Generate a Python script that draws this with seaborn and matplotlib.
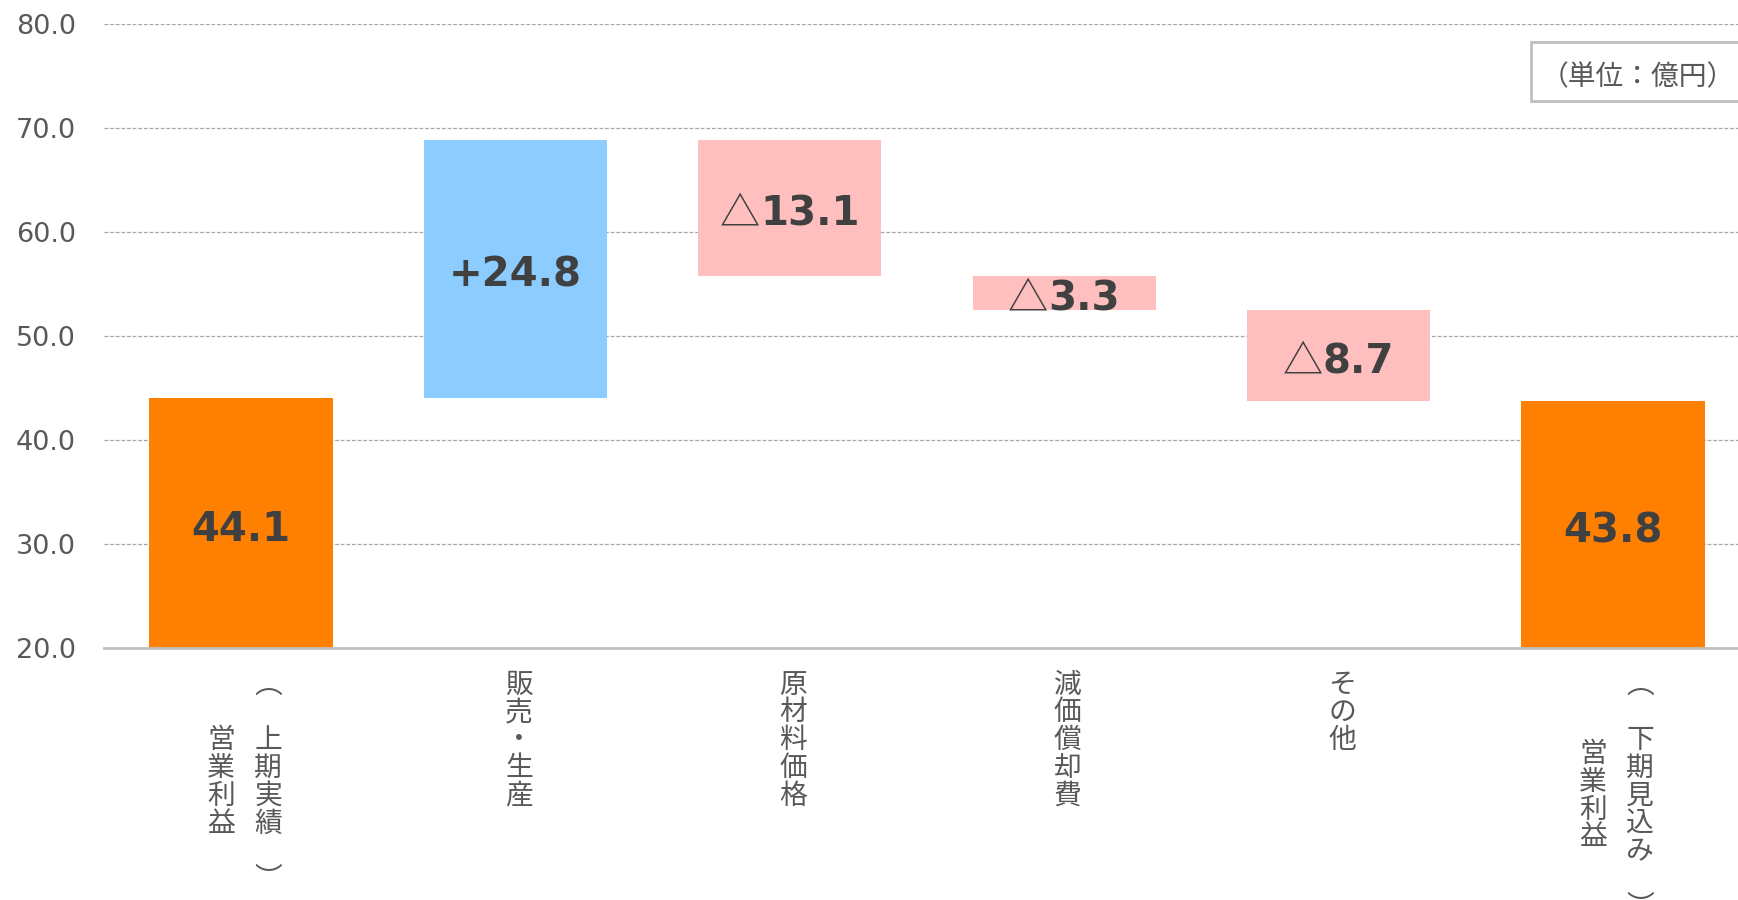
import numpy as np
import pandas as pd
import matplotlib
matplotlib.use("Agg")
import matplotlib.pyplot as plt
import seaborn as sns
from matplotlib.patches import Rectangle

# ---------------- data ----------------
categories = ["営業利益（上期実績）", "販売・生産", "原材料価格", "減価償却費", "その他", "営業利益（下期見込み）"]
changes = [44.1, 24.8, -13.1, -3.3, -8.7, 43.8]
kinds = ["total", "up", "down", "down", "down", "total"]
y_ticks = [20, 30, 40, 50, 60, 70, 80]
unit_label = "（単位：億円）"

kind_colors = {"total": "#FF8000", "up": "#8CCCFF", "down": "#FFBFBF"}

# waterfall geometry derived from the changes
bottoms, heights = [], []
running = 0.0
for v, k in zip(changes, kinds):
    if k == "total":
        bottoms.append(0.0)
        heights.append(v)
        running = v
    else:
        start = running
        running = running + v
        bottoms.append(min(start, running))
        heights.append(abs(v))

df = pd.DataFrame({"cat": categories, "height": heights, "bottom": bottoms, "kind": kinds})

# ---------------- style ----------------
sns.set_style("white")
plt.rcParams["font.family"] = ["DejaVu Sans", "Noto Sans CJK JP"]
CJK = ["Noto Sans CJK JP", "DejaVu Sans"]
GRAY_TXT = "#595959"
DARK_TXT = "#404040"

W, H = 1738, 900
fig = plt.figure(figsize=(W / 100, H / 100), dpi=100)
ax_left, ax_right, ax_top, ax_bot = 103.8, 1750.2, 24.4, 648.4
ax = fig.add_axes([ax_left / W, 1 - ax_bot / H, (ax_right - ax_left) / W, (ax_bot - ax_top) / H])

sns.barplot(
    data=df, x="cat", y="height", bottom=df["bottom"].values,
    facecolor=[kind_colors[k] for k in kinds], color="#FF8000",
    width=0.667, saturation=1, errorbar=None, linewidth=0, edgecolor="none", ax=ax,
)

ymin, ymax = y_ticks[0], y_ticks[-1]
ax.set_ylim(ymin, ymax)
ax.set_xlim(-0.5, len(categories) - 0.5)
ax.set_yticks(y_ticks)
ax.set_yticklabels([f"{t:.1f}" for t in y_ticks])
ax.tick_params(axis="y", length=0, pad=20, labelsize=19.5, labelcolor=GRAY_TXT)
ax.set_xticks(range(len(categories)))
ax.set_xticklabels([])
ax.tick_params(axis="x", length=0)
ax.set_xlabel("")
ax.set_ylabel("")
ax.yaxis.grid(True, color="#A6A6A6", linestyle=(0, (3, 1.5)), linewidth=0.9)
ax.xaxis.grid(False)
ax.set_axisbelow(True)
for s in ["left", "right", "top"]:
    ax.spines[s].set_visible(False)
ax.spines["bottom"].set_color("#BFBFBF")
ax.spines["bottom"].set_linewidth(2)

# ---------------- value labels ----------------
LBL_SIZE = 29
cap_px = 0.729 * LBL_SIZE * 100 / 72
pairs = []
for i, (v, k, b, h) in enumerate(zip(changes, kinds, bottoms, heights)):
    lo = max(b, ymin)
    mid = (lo + b + h) / 2
    if k == "total":
        num = f"{v:.1f}"
        prefix = None
    elif k == "up":
        num = f"+{v:.1f}"
        prefix = None
    else:
        num = f"{abs(v):.1f}"
        prefix = "△"
    tnum = ax.annotate(num, xy=(i, mid), xytext=(0, -cap_px / 2 - 3), textcoords="offset pixels",
                       ha="left", va="baseline", fontsize=LBL_SIZE, fontweight="bold",
                       color=DARK_TXT, family="DejaVu Sans", zorder=6)
    tpre = None
    if prefix:
        tpre = ax.annotate(prefix, xy=(i, mid), xytext=(0, -cap_px / 2 - 3), textcoords="offset pixels",
                           ha="left", va="baseline", fontsize=LBL_SIZE, fontweight="normal",
                           color=DARK_TXT, family=CJK, zorder=6)
    pairs.append((tpre, tnum))

fig.canvas.draw()
rend = fig.canvas.get_renderer()
for tpre, tnum in pairs:
    w2 = tnum.get_window_extent(rend).width
    w1 = tpre.get_window_extent(rend).width if tpre is not None else 0.0
    total = w1 + w2
    yoff = tnum.xyann[1]
    if tpre is not None:
        tpre.xyann = (-total / 2, yoff)
    tnum.xyann = (-total / 2 + w1, yoff)

# ---------------- vertical category labels ----------------
CAT_SIZE = 20
pitch = 27.8
first_center = 33.6
em_px = CAT_SIZE * 100 / 72


def label_columns(label):
    if "（" in label:
        main, rest = label.split("（", 1)
        inner = rest.rstrip("）")
        return [(-20, list(main)), (27, ["︵", ""] + list(inner) + ["", "︶"])]
    return [(3.5, list(label))]


for i, lab in enumerate(categories):
    cols = label_columns(lab)
    nmax = max(len(c) for _, c in cols)
    for dx, chars in cols:
        start = (nmax - len(chars)) / 2
        for j, ch in enumerate(chars):
            if not ch:
                continue
            cy = first_center + (start + j) * pitch
            ax.annotate(ch, xy=(i, 0), xycoords=("data", "axes fraction"),
                        xytext=(dx, -(cy + 0.38 * em_px)), textcoords="offset pixels",
                        ha="center", va="baseline", fontsize=CAT_SIZE, color=GRAY_TXT,
                        family=CJK, annotation_clip=False)

# ---------------- unit box ----------------
fig.add_artist(Rectangle((1531 / W, 1 - 101 / H), 300 / W, 59 / H, transform=fig.transFigure,
                         facecolor="white", edgecolor="#BFBFBF", linewidth=2, zorder=5))
fig.text(1637.5 / W, 1 - (75 + 0.38 * em_px) / H, unit_label, ha="center", va="baseline",
         fontsize=CAT_SIZE, color=GRAY_TXT, family=CJK, zorder=6)

fig.savefig("out.png", dpi=100)
